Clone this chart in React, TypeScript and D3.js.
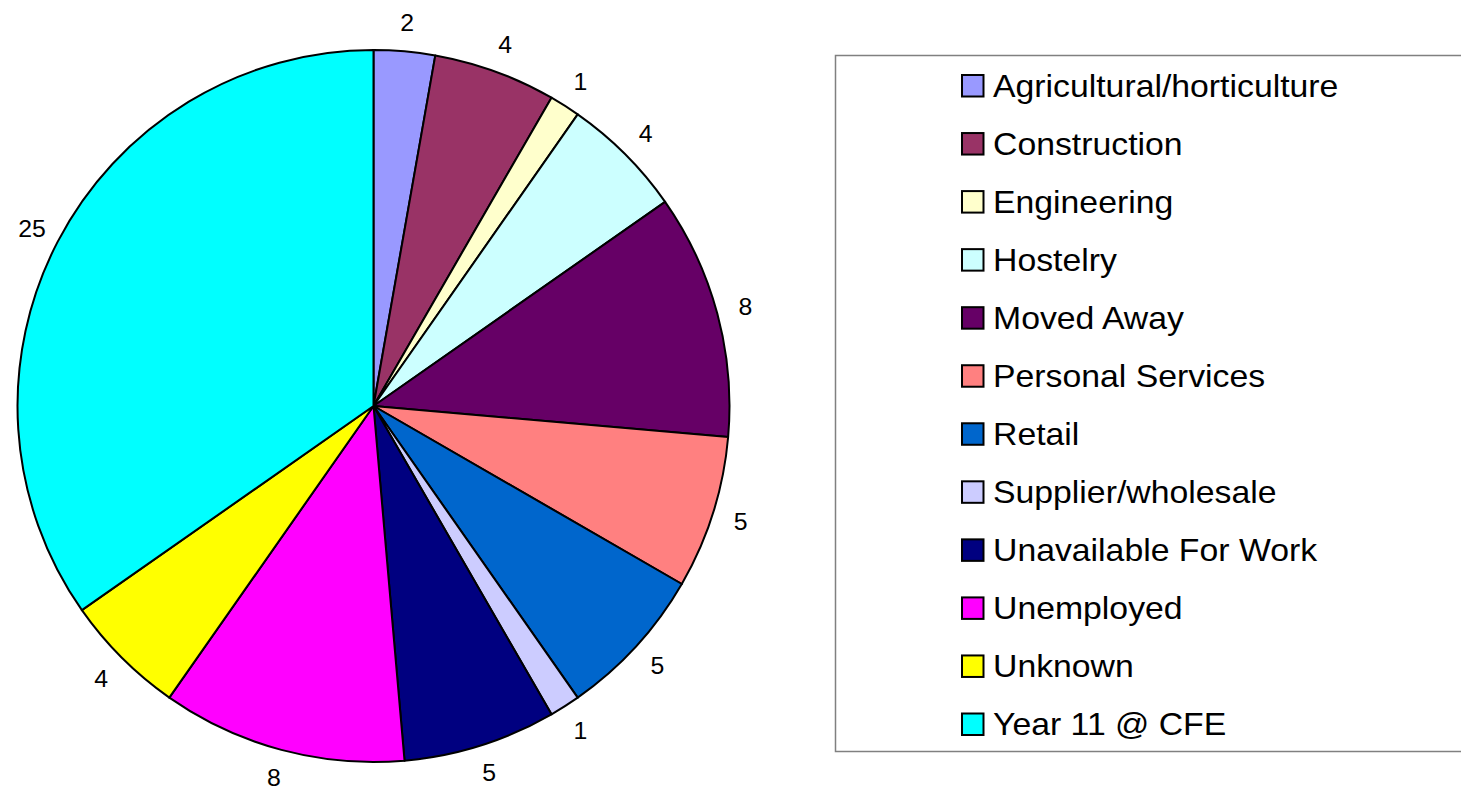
import React from 'react';
import * as d3 from 'd3';

const categories = [
  'Agricultural/horticulture', 'Construction', 'Engineering', 'Hostelry',
  'Moved Away', 'Personal Services', 'Retail', 'Supplier/wholesale',
  'Unavailable For Work', 'Unemployed', 'Unknown', 'Year 11 @ CFE',
];
const values = [2, 4, 1, 4, 8, 5, 5, 1, 5, 8, 4, 25];
const colors = [
  '#9999FF', '#993366', '#FFFFCC', '#CCFFFF', '#660066', '#FF8080',
  '#0066CC', '#CCCCFF', '#000080', '#FF00FF', '#FFFF00', '#00FFFF',
];

const W = 1461, H = 792;
const cx = 373.5, cy = 406, r = 356;
const labelR = 385;
const font = '"Liberation Sans", Arial, sans-serif';

export default function App() {
  const arcs = d3.pie<number>().sort(null).value(d => d)(values);
  const arcGen = d3.arc<d3.PieArcDatum<number>>().innerRadius(0).outerRadius(r);

  // baselines of the legend rows
  const legendY = d3.scalePoint<string>().domain(categories).range([96.5, 735]);

  return (
    <svg width={W} height={H} style={{ position: 'absolute', left: 0, top: 0 }}>
      <rect width={W} height={H} fill="#fff" />
      <g transform={`translate(${cx},${cy})`}>
        {arcs.map((a, i) => (
          <path key={i} d={arcGen(a) || ''} fill={colors[i]} stroke="#000" strokeWidth={2} strokeLinejoin="round" />
        ))}
        {arcs.map((a, i) => {
          const mid = (a.startAngle + a.endAngle) / 2;
          const x = Math.sin(mid) * labelR;
          const y = -Math.cos(mid) * labelR;
          return (
            <text key={'l' + i} transform={`translate(${x},${y}) scale(1.08,1)`} dy="0.36em" textAnchor="middle"
              fontFamily={font} fontSize={23} fill="#000">{values[i]}</text>
          );
        })}
      </g>
      <rect x={835.5} y={55.5} width={700} height={696} fill="#fff" stroke="#808080" strokeWidth={1.5} />
      {categories.map((c, i) => {
        const y = legendY(c)!;
        return (
          <g key={c}>
            <rect x={962} y={y - 21.5} width={21.5} height={21.5} fill={colors[i]} stroke="#000" strokeWidth={2} />
            <text transform={`translate(993,${y}) scale(1.09,1)`} fontFamily={font} fontSize={31} fill="#000">{c}</text>
          </g>
        );
      })}
    </svg>
  );
}
